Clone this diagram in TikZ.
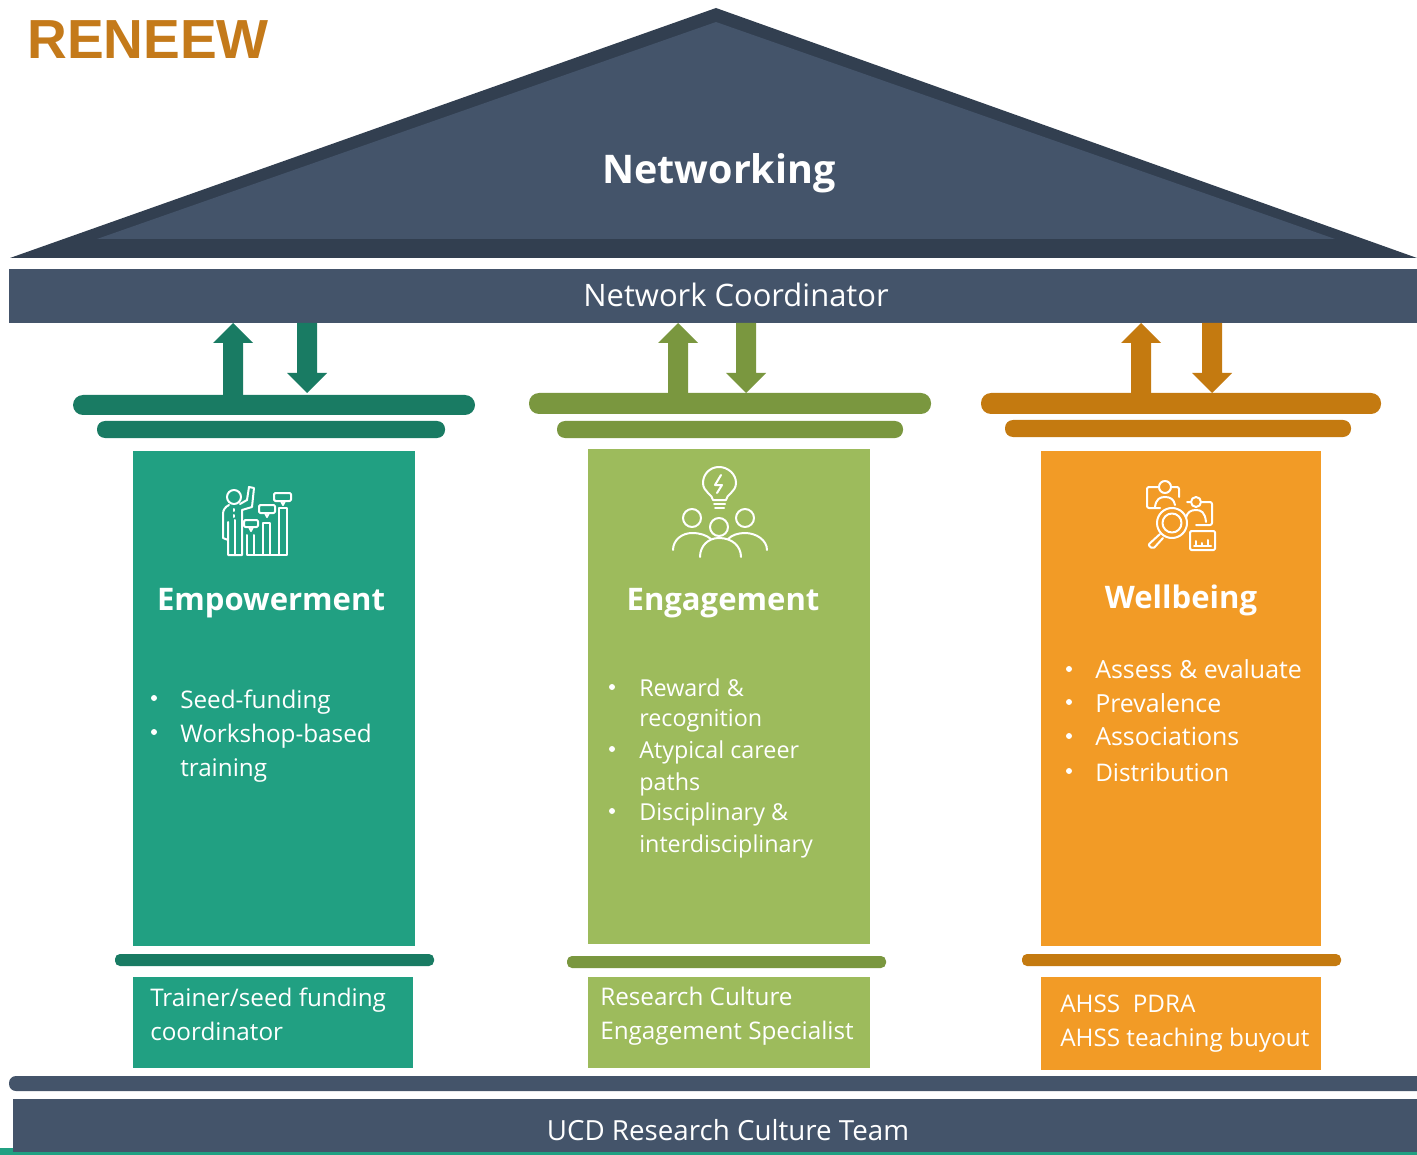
\documentclass[tikz,border=0pt]{standalone}
\usepackage{fontspec}
\setmainfont{Open Sans}
\newfontfamily\headfont{Liberation Sans}
\definecolor{slate}{HTML}{44546A}
\definecolor{slatedark}{HTML}{323F50}
\definecolor{tealmain}{HTML}{21A082}
\definecolor{tealdark}{HTML}{197B63}
\definecolor{greenmain}{HTML}{9DBB5C}
\definecolor{greendark}{HTML}{7A973F}
\definecolor{orangemain}{HTML}{F29B26}
\definecolor{orangedark}{HTML}{C47A10}
\definecolor{titleorange}{HTML}{C47A1A}
\newcommand{\arrowup}[4]{% x, tip y, bottom y, colour
  \fill[#4] (#1-10,#3) -- (#1-10,#2+20) -- (#1-20,#2+20) -- (#1,#2) -- (#1+20,#2+20) -- (#1+10,#2+20) -- (#1+10,#3) -- cycle;}
\newcommand{\arrowdown}[4]{% x, top y, tip y, colour
  \fill[#4] (#1-10,#2) -- (#1-10,#3-20) -- (#1-20,#3-20) -- (#1,#3) -- (#1+20,#3-20) -- (#1+10,#3-20) -- (#1+10,#2) -- cycle;}
\tikzset{
  x=0.75pt,y=-0.75pt,
  pilltext/.style={text=white,font=\fontsize{18.2pt}{20pt}\selectfont,align=left,anchor=base west,inner sep=0pt},
  midtext/.style={pilltext,font=\fontsize{17.5pt}{20pt}\selectfont},
  widetext/.style={pilltext,font=\fontsize{18.7pt}{20pt}\selectfont},
  heading/.style={text=white,font=\fontsize{23.3pt}{26pt}\selectfont\bfseries,anchor=base,inner sep=0pt},
  bandtext/.style={text=white,anchor=base,inner sep=0pt},
  dotmark/.style={circle,fill=white,inner sep=0pt,minimum size=4.5pt},
  icon/.style={draw=white,line width=1.5pt,line cap=round,line join=round,fill=none}
}
\begin{document}
\begin{tikzpicture}
\useasboundingbox (0,0) rectangle (1417,1155);
\clip (0,0) rectangle (1417,1155);
\fill[white] (0,0) rectangle (1417,1155);
% title
\node[text=titleorange,font=\headfont\fontsize{41.3pt}{45pt}\selectfont\bfseries,anchor=base west,inner sep=0pt] (title) at (27,59) {RENEEW};
% roof
\fill[slatedark] (716,8) -- (1417,258) -- (10,258) -- cycle;
\fill[slate] (716,22) -- (1335,239) -- (97,239) -- cycle;
\node[text=white,font=\fontsize{29.6pt}{34pt}\selectfont\bfseries,anchor=base,inner sep=0pt] (roof) at (719,184) {Networking};
% top band
\fill[slate] (9,269) rectangle (1417,323);
\node[bandtext,font=\fontsize{23.2pt}{26pt}\selectfont] (coord) at (736,307) {Network Coordinator};
% arrows
\arrowup{233}{323}{396}{tealdark}
\arrowdown{307}{323}{393}{tealdark}
\arrowup{678}{323}{394}{greendark}
\arrowdown{746}{323}{393}{greendark}
\arrowup{1141}{323}{394}{orangedark}
\arrowdown{1212}{323}{393}{orangedark}
% capitals
\fill[tealdark,rounded corners=7.5pt] (73,395) rectangle (475,415);
\fill[tealdark,rounded corners=6pt] (97,421) rectangle (445,438);
\fill[greendark,rounded corners=7.5pt] (529,393) rectangle (931,414);
\fill[greendark,rounded corners=6pt] (557,421) rectangle (903,438);
\fill[orangedark,rounded corners=7.5pt] (981,393) rectangle (1381,414);
\fill[orangedark,rounded corners=6pt] (1005,420) rectangle (1351,437);
% columns
\fill[tealmain] (133,451) rectangle (415,946);
\fill[greenmain] (588,449) rectangle (870,944);
\fill[orangemain] (1041,451) rectangle (1321,946);
% bases
\fill[tealdark,rounded corners=3.75pt] (115,954) rectangle (434,966);
\fill[greendark,rounded corners=3.75pt] (567,956) rectangle (886,968);
\fill[orangedark,rounded corners=3.75pt] (1022,954) rectangle (1341,966);
\fill[tealmain] (133,977) rectangle (413,1068);
\fill[greenmain] (588,977) rectangle (870,1068);
\fill[orangemain] (1041,977) rectangle (1321,1070);
% bottom
\fill[tealmain] (0,1148) rectangle (1417,1155);
\fill[slate,rounded corners=5.25pt] (9,1076) rectangle (1440,1091);
\fill[slate] (13,1099) rectangle (1417,1152);
\node[bandtext,font=\fontsize{20.8pt}{24pt}\selectfont] (team) at (728,1140) {UCD Research Culture Team};
% headings
\node[heading] (emp) at (271,610) {Empowerment};
\node[heading] (eng) at (723,610) {Engagement};
\node[heading] (well) at (1181,608) {Wellbeing};
% bullets col 1
\node[dotmark] at (154,698) {};
\node[dotmark] at (154,732) {};
\node[pilltext] at (180,708) {Seed-funding};
\node[pilltext] at (180,742) {Workshop-based};
\node[pilltext] at (180,776) {training};
% bullets col 2
\node[dotmark] at (612,687) {};
\node[dotmark] at (612,749) {};
\node[dotmark] at (612,811) {};
\node[midtext] at (639,696) {Reward \&};
\node[midtext] at (639,726) {recognition};
\node[midtext] at (639,758) {Atypical career};
\node[midtext] at (639,790) {paths};
\node[midtext] at (639,820) {Disciplinary \&};
\node[midtext] at (639,852) {interdisciplinary};
% bullets col 3
\node[dotmark] at (1069,669) {};
\node[dotmark] at (1069,702) {};
\node[dotmark] at (1069,736) {};
\node[dotmark] at (1069,771) {};
\node[widetext] at (1095,678) {Assess \& evaluate};
\node[widetext] at (1095,712) {Prevalence};
\node[widetext] at (1095,745) {Associations};
\node[pilltext] at (1095,781) {Distribution};
% base text
\node[pilltext] at (150,1006) {Trainer/seed funding};
\node[pilltext] at (150,1040) {coordinator};
\node[pilltext] at (600,1005) {Research Culture};
\node[pilltext] at (600,1039) {Engagement Specialist};
\node[pilltext] at (1060,1012) {AHSS\ \ PDRA};
\node[pilltext] at (1060,1046) {AHSS teaching buyout};
% icon: person and bars
\begin{scope}[icon]
\draw (234,497) circle[radius=7];
\draw (229,505) .. controls (225,507) and (223,510) .. (223,514) -- (223,538) -- (228,540);
\draw (228,522) -- (228,555) -- (242,555) -- (242,510) -- (252,507) -- (254,488) -- (249,487) -- (247,500) -- (240,504);
\draw (235,520) -- (235,555);
\draw (234,509) -- (234,511) (234,515) -- (234,517);
\draw (247,535) -- (247,555) -- (287,555) -- (287,508) -- (279,508) -- (279,555);
\draw (254,555) -- (254,535);
\draw (263,555) -- (263,523) -- (270,523) -- (270,555);
\draw[rounded corners=1pt] (244,520) rectangle (258,527);
\draw[rounded corners=1pt] (259,505) rectangle (275,513);
\draw[rounded corners=1pt] (274,493) rectangle (291,501);
\draw (249,527) -- (251,531) -- (253,527);
\draw (265,513) -- (267,517) -- (269,513);
\draw (281,501) -- (283,505) -- (285,501);
\end{scope}
% icon: bulb and people
\begin{scope}[icon]
\draw (713,500) .. controls (713,495) and (703,492) .. (703,483) .. controls (703,474) and (710,467) .. (719,467) .. controls (728,467) and (736,474) .. (736,483) .. controls (736,492) and (726,495) .. (726,500) -- cycle;
\draw (714,504) -- (725,504);
\draw (715,508) -- (724,508);
\draw (721,475) -- (715,485) -- (722,485) -- (717,493) ;
\draw (692,518) circle[radius=9];
\draw (745,518) circle[radius=9];
\draw (719,527) circle[radius=9];
\draw (673,550) .. controls (673,540) and (682,533) .. (692,533) .. controls (700,533) and (706,535) .. (711,539);
\draw (767,550) .. controls (767,540) and (756,533) .. (745,533) .. controls (738,533) and (732,535) .. (728,539);
\draw (700,557) .. controls (700,546) and (708,538) .. (719,538) .. controls (732,538) and (741,546) .. (741,557);
\end{scope}
% icon: magnifier
\begin{scope}[icon]
\draw[rounded corners=1.5pt] (1179,497) -- (1179,487) -- (1172,487) (1158,487) -- (1147,487) -- (1147,508) -- (1160,508);
\draw (1165,487) circle[radius=6];
\draw (1155,507) .. controls (1156,499) and (1160,497) .. (1165,497) .. controls (1170,497) and (1174,499) .. (1175,505);
\draw[rounded corners=1.5pt] (1190,502) -- (1187,502) (1201,502) -- (1212,502) -- (1212,525) -- (1196,525);
\draw (1196,502) circle[radius=5];
\draw (1186,518) .. controls (1187,512) and (1191,510) .. (1196,510) .. controls (1201,510) and (1205,512) .. (1206,522);
\draw[fill=orangemain] (1172,523) circle[radius=15];
\draw (1172,523) circle[radius=9.5];
\draw[rounded corners=1.5pt] (1160,534) -- (1148,545) -- (1153,549) -- (1163,538);
\draw[rounded corners=1pt] (1190,531) rectangle (1215,550);
\draw (1196,545) -- (1196,541);
\draw (1202,545) -- (1202,543);
\draw (1208,545) -- (1208,540);
\draw (1194,546) -- (1211,546);
\end{scope}
\end{tikzpicture}
\end{document}
